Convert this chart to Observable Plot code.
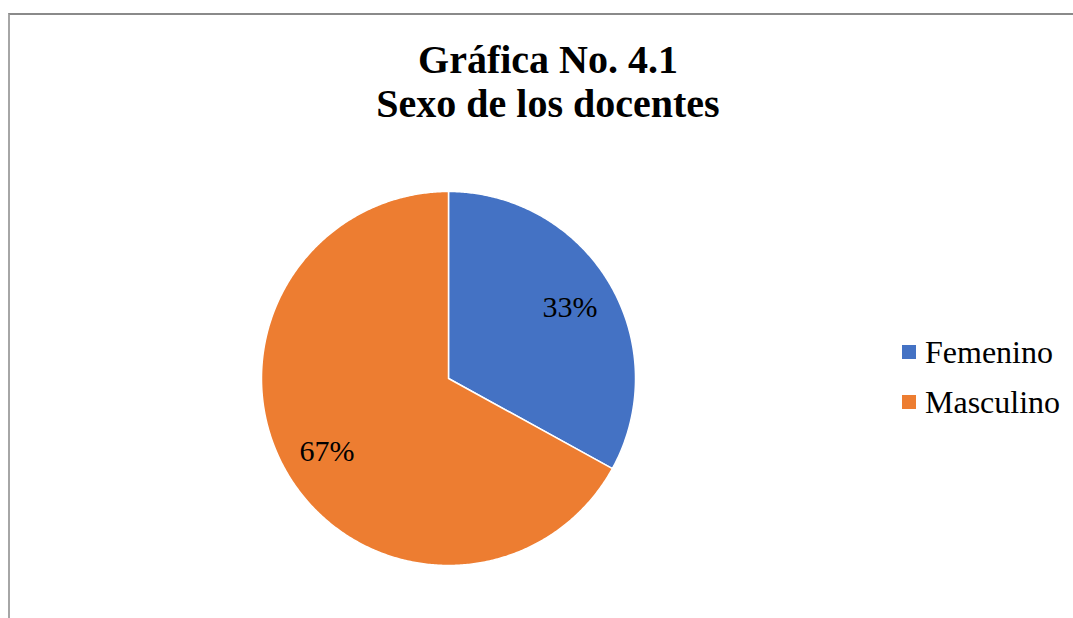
<!DOCTYPE html>
<html>
<head>
<meta charset="utf-8">
<script src="https://cdn.jsdelivr.net/npm/d3@7"></script>
<script src="https://cdn.jsdelivr.net/npm/@observablehq/plot@0.6"></script>
<style>
  html, body { margin: 0; padding: 0; background: #fff; }
  #wrap { position: relative; width: 1073px; height: 618px; overflow: hidden; font-family: "Liberation Serif", "Times New Roman", serif; }
  #frame { position: absolute; left: 8px; top: 13px; width: 1070px; height: 620px; border-top: 2px solid #8a8a8a; border-left: 2px solid #a6a6a6; box-sizing: border-box; }
  #title { position: absolute; left: 0; top: 38px; width: 1096px; text-align: center; font-weight: bold; font-size: 40px; line-height: 44px; color: #000; }
  #chart { position: absolute; left: 0; top: 0; }
  #legend { position: absolute; left: 902px; top: 327px; font-size: 32px; color: #000; }
  .item { display: flex; align-items: center; height: 50px; }
  .sw { width: 14px; height: 14px; margin-right: 9px; }
</style>
</head>
<body>
<div id="wrap">
  <div id="frame"></div>
  <div id="chart"></div>
  <div id="title">Gráfica No. 4.1<br>Sexo de los docentes</div>
  <div id="legend"></div>
</div>
<script>
const categories = ["Femenino", "Masculino"];
const values = [33, 67];
const labels = ["33%", "67%"];
const colors = ["#4472C4", "#ED7D31"];

const pie = d3.pie().sort(null).value(d => d.value);
const arcs = pie(categories.map((c, i) => ({name: c, value: values[i], label: labels[i]})));

// polygon points for each slice, in unit-circle coordinates (y up)
const pts = [];
for (const a of arcs) {
  pts.push({name: a.data.name, x: 0, y: 0});
  const n = Math.max(2, Math.ceil((a.endAngle - a.startAngle) / (Math.PI / 360)));
  for (let k = 0; k <= n; k++) {
    const t = a.startAngle + (a.endAngle - a.startAngle) * k / n;
    pts.push({name: a.data.name, x: Math.sin(t), y: Math.cos(t)});
  }
  pts.push({name: a.data.name, x: 0, y: 0});
}
const labelPts = arcs.map(a => {
  const m = (a.startAngle + a.endAngle) / 2;
  return {label: a.data.label, x: 0.755 * Math.sin(m), y: 0.755 * Math.cos(m)};
});

const chart = Plot.plot({
  width: 1073,
  height: 618,
  marginLeft: 261,
  marginRight: 438,
  marginTop: 191,
  marginBottom: 53,
  x: {domain: [-1, 1], axis: null},
  y: {domain: [-1, 1], axis: null},
  color: {domain: categories, range: colors},
  style: {background: "transparent", overflow: "visible"},
  marks: [
    Plot.line(pts, {x: "x", y: "y", z: "name", fill: "name", stroke: "white", strokeWidth: 1.5, strokeLinejoin: "round"}),
    Plot.text(labelPts, {x: "x", y: "y", dy: 1, text: "label", fontSize: 30, fontFamily: "Liberation Serif, Times New Roman, serif", fill: "#000"})
  ]
});
document.getElementById("chart").appendChild(chart);

const leg = document.getElementById("legend");
categories.forEach((c, i) => {
  const d = document.createElement("div");
  d.className = "item";
  d.innerHTML = `<span class="sw" style="background:${colors[i]}"></span><span>${c}</span>`;
  leg.appendChild(d);
});
</script>
</body>
</html>
